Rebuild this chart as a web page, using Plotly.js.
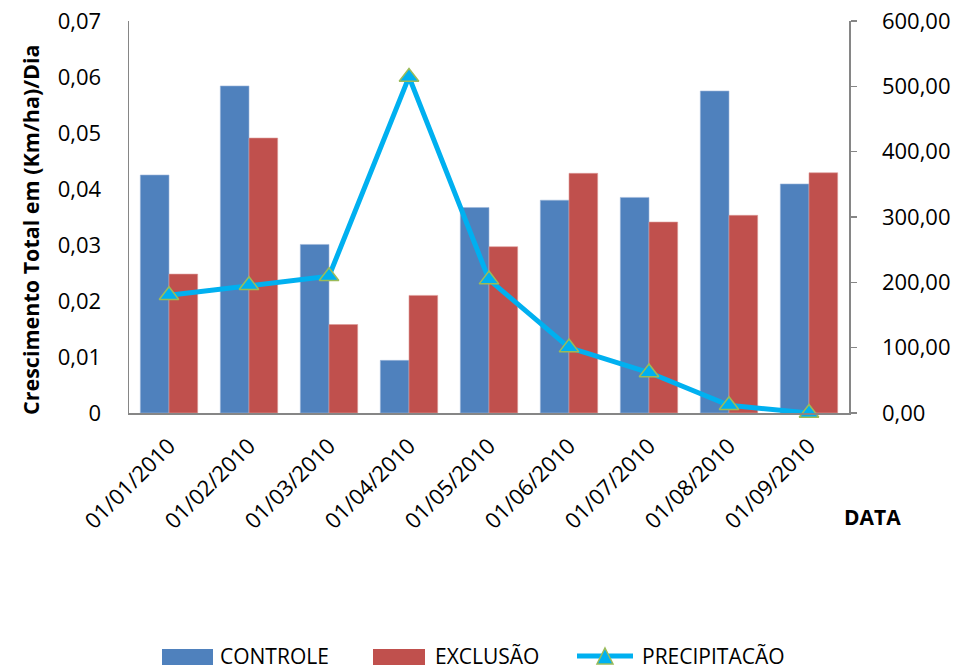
<!DOCTYPE html>
<html>
<head>
<meta charset="utf-8">
<script src="https://cdn.plot.ly/plotly-3.0.1.min.js"></script>
<style>
  html, body { margin: 0; padding: 0; background: #ffffff; }
  #chart { width: 953px; height: 672px; }
</style>
</head>
<body>
<div id="chart"></div>
<script>
// Monthly sampling dates
const datas = ['01/01/2010', '01/02/2010', '01/03/2010', '01/04/2010', '01/05/2010',
               '01/06/2010', '01/07/2010', '01/08/2010', '01/09/2010'];

// Total growth, (Km/ha)/Dia
const controle = [0.0425, 0.0584, 0.0301, 0.0094, 0.0367, 0.0380, 0.0385, 0.0575, 0.0409];
const exclusao = [0.0248, 0.0491, 0.0158, 0.0210, 0.0297, 0.0428, 0.0341, 0.0353, 0.0429];

// Rainfall (right axis)
const precipitacao = [180.2, 195.5, 209.3, 514.4, 204.2, 100.1, 61.9, 11.8, 0.0];

// Series names
const nomes = ['CONTROLE', 'EXCLUSÃO', 'PRECIPITACÃO'];

// Axis labels
const yTickVals = [0, 0.01, 0.02, 0.03, 0.04, 0.05, 0.06, 0.07];
const yTickText = ['0', '0,01', '0,02', '0,03', '0,04', '0,05', '0,06', '0,07'];
const y2TickVals = [0, 100, 200, 300, 400, 500, 600];
const y2TickText = ['0,00', '100,00', '200,00', '300,00', '400,00', '500,00', '600,00'];

const font = 'Open Sans, Noto Sans, DejaVu Sans, sans-serif';
const axisGray = '#868686';
const azul = '#4F81BD', vermelho = '#C0504D', ciano = '#00B0F0', verde = '#9BBB59';

const traces = [
  {
    type: 'bar', name: nomes[0], x: datas, y: controle,
    marker: { color: azul, line: { color: '#9DB7DA', width: 0.6 } }
  },
  {
    type: 'bar', name: nomes[1], x: datas, y: exclusao,
    marker: { color: vermelho, line: { color: '#DD9A98', width: 0.6 } }
  },
  {
    type: 'scatter', mode: 'lines+markers', name: nomes[2],
    x: datas, y: precipitacao, yaxis: 'y2', cliponaxis: false,
    line: { color: ciano, width: 5 },
    marker: { symbol: 'triangle-up', size: 17, color: ciano,
              line: { color: verde, width: 1.5 } }
  }
];

// Plot area in pixels, used to place the legend keys below it
const M = { l: 129, r: 104, t: 21, b: 259 };
const W = 953, H = 672;
const pw = W - M.l - M.r, ph = H - M.t - M.b;
const px = v => (v - M.l) / pw;
const py = v => (H - M.b - v) / ph;

const legendY = 656;
const shapes = [
  { type: 'rect', xref: 'paper', yref: 'paper', x0: px(162), x1: px(213),
    y0: py(665), y1: py(649), fillcolor: azul, line: { width: 0 } },
  { type: 'rect', xref: 'paper', yref: 'paper', x0: px(373), x1: px(425),
    y0: py(665), y1: py(649), fillcolor: vermelho, line: { width: 0 } },
  { type: 'line', xref: 'paper', yref: 'paper', x0: px(577), x1: px(633),
    y0: py(legendY), y1: py(legendY), line: { color: ciano, width: 5 } },
  { type: 'path', xref: 'paper', yref: 'paper',
    path: `M ${px(605)} ${py(648)} L ${px(613)} ${py(664)} L ${px(597)} ${py(664)} Z`,
    fillcolor: ciano, line: { color: verde, width: 1.5 } }
];

const legendText = [218, 433, 640].map((x, i) => ({
  text: nomes[i], xref: 'paper', yref: 'paper', x: px(x), y: py(legendY),
  xanchor: 'left', yanchor: 'middle', showarrow: false,
  font: { family: font, size: 21, color: '#000000' }
}));

const layout = {
  width: W, height: H,
  paper_bgcolor: '#ffffff', plot_bgcolor: '#ffffff',
  margin: Object.assign({ autoexpand: false }, M),
  barmode: 'group', bargap: 0.283, bargroupgap: 0,
  showlegend: false,
  font: { family: font, size: 22, color: '#000000' },
  xaxis: {
    type: 'category', range: [-0.5, datas.length - 0.5], tickangle: -45, automargin: false,
    showline: true, linecolor: axisGray, linewidth: 1.5,
    ticks: '', showgrid: false, zeroline: false, ticklabelstandoff: 10,
    tickfont: { family: font, size: 22, color: '#000000' }
  },
  yaxis: {
    range: [0, 0.07], tickvals: yTickVals, ticktext: yTickText, automargin: false,
    showline: true, linecolor: axisGray, linewidth: 1.5,
    ticks: '', showgrid: false, zeroline: false, ticklabelstandoff: 22,
    tickfont: { family: font, size: 22, color: '#000000' }
  },
  yaxis2: {
    overlaying: 'y', side: 'right', range: [0, 600], automargin: false,
    tickvals: y2TickVals, ticktext: y2TickText,
    showline: true, linecolor: axisGray, linewidth: 1.5,
    ticks: 'outside', ticklen: 6, tickcolor: axisGray, tickwidth: 1.5,
    showgrid: false, zeroline: false, ticklabelstandoff: 21,
    tickfont: { family: font, size: 22, color: '#000000' }
  },
  shapes: shapes,
  annotations: [
    {
      text: '<b>Crescimento Total em (Km/ha)/Dia</b>', textangle: -90,
      xref: 'paper', yref: 'paper', x: px(30), y: py(230),
      xanchor: 'center', yanchor: 'middle', showarrow: false,
      font: { family: font, size: 21.5, color: '#000000' }
    },
    {
      text: '<b>DATA</b>', xref: 'paper', yref: 'paper',
      x: px(872), y: py(517), xanchor: 'center', yanchor: 'middle',
      showarrow: false, font: { family: font, size: 21, color: '#000000' }
    }
  ].concat(legendText)
};

Plotly.newPlot('chart', traces, layout, { displayModeBar: false, staticPlot: true });
</script>
</body>
</html>
